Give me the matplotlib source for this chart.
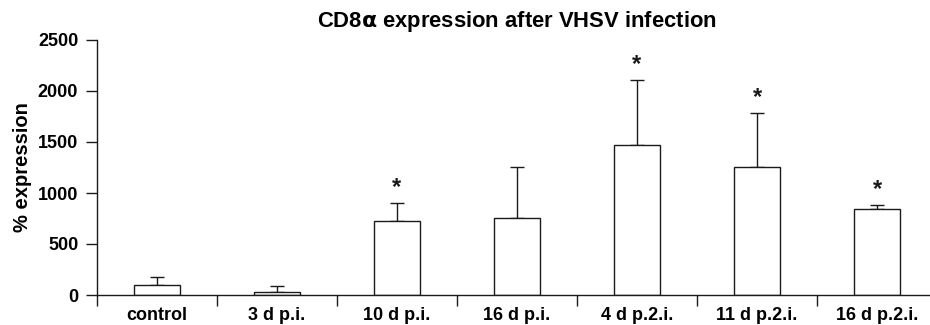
import matplotlib
matplotlib.use("Agg")
import matplotlib.pyplot as plt
import numpy as np

categories = ["control", "3 d p.i.", "10 d p.i.", "16 d p.i.", "4 d p.2.i.", "11 d p.2.i.", "16 d p.2.i."]
means = [101, 32, 725, 758, 1468, 1258, 846]
errors = [75, 56, 177, 500, 637, 529, 39]
significant = [False, False, True, False, True, True, True]
yticks = [0, 500, 1000, 1500, 2000, 2500]

plt.rcParams['font.family'] = ['Liberation Sans', 'DejaVu Sans']
plt.rcParams['font.weight'] = 'bold'

fig = plt.figure(figsize=(9.3, 3.25), dpi=100)
W, H = 930, 325
ax = fig.add_axes([97 / W, 30 / H, 840 / W, 255 / H])

x = np.arange(len(categories))
ink = '#1a1a1a'
ax.bar(x, means, width=0.39, color='white', edgecolor=ink, linewidth=1.0, zorder=2)
ax.errorbar(x, means, yerr=[np.zeros(len(errors)), errors], fmt='none',
            ecolor=ink, elinewidth=1.0, capsize=5, capthick=1.0, zorder=1)
for xi, m, e, s in zip(x, means, errors, significant):
    if s:
        ax.annotate('*', xy=(xi, m + e), xytext=(0, 3), textcoords='offset points',
                    ha='center', va='bottom', fontsize=17, fontweight='bold', color=ink)

ax.set_xlim(-0.5, 6.5)
ax.set_ylim(0, 2500)
ax.set_yticks(yticks)
ax.set_yticklabels([str(v) for v in yticks], fontsize=13, fontweight='bold')
ax.set_xticks(np.arange(-0.5, 6.5, 1.0))
ax.set_xticklabels([])
ax.set_xticks(x, minor=True)
ax.set_xticklabels(categories, minor=True, fontsize=13, fontweight='bold')
ax.tick_params(axis='x', which='minor', length=0, pad=8.3)
ax.tick_params(axis='x', which='major', length=8, width=1.0, color=ink)
ax.tick_params(axis='y', length=8, width=1.0, color=ink, pad=5.5)
for sp in ['top', 'right']:
    ax.spines[sp].set_visible(False)
for sp in ['left', 'bottom']:
    ax.spines[sp].set_linewidth(1.0)
    ax.spines[sp].set_color(ink)

ax.set_ylabel('% expression', fontsize=14.5, fontweight='bold', labelpad=4)
fig.text(517 / W, 1 - 22 / H, r'CD8$\mathbf{\alpha}$ expression after VHSV infection',
         ha='center', va='center', fontsize=15.8, fontweight='bold')

fig.savefig('out.png', dpi=100)
